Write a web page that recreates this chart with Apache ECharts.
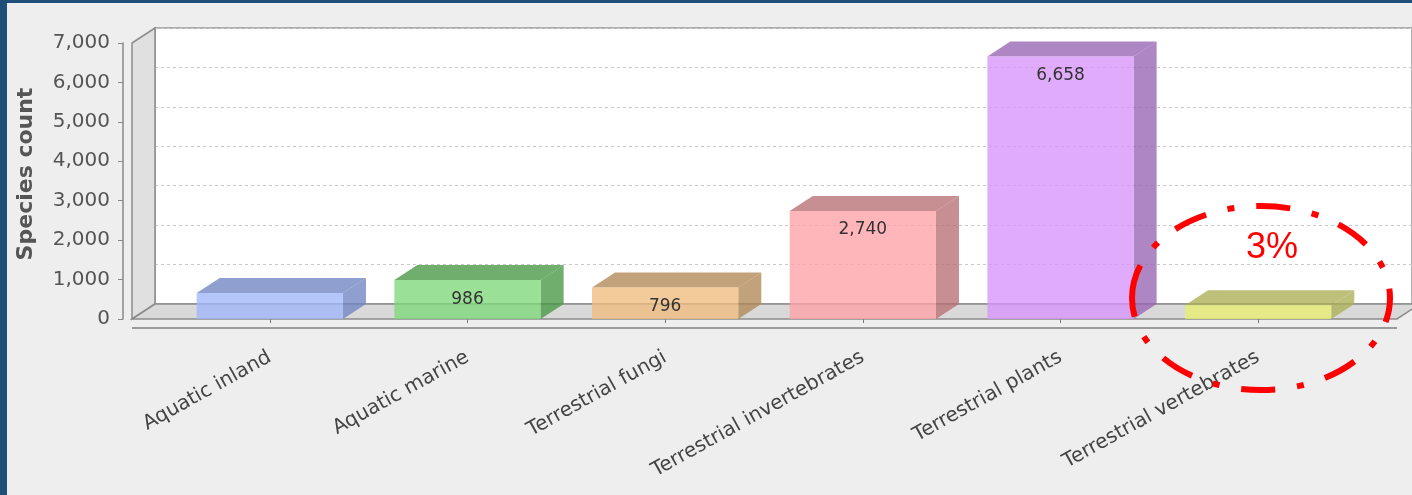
<!DOCTYPE html>
<html>
<head>
<meta charset="utf-8">
<script src="https://cdn.jsdelivr.net/npm/echarts@6/dist/echarts.min.js"></script>
<style>
  html, body { margin: 0; padding: 0; background: #eeeeee; }
  #chart { width: 1412px; height: 495px; }
</style>
</head>
<body>
<div id="chart"></div>
<script>
const categories = [
  'Aquatic inland',
  'Aquatic marine',
  'Terrestrial fungi',
  'Terrestrial invertebrates',
  'Terrestrial plants',
  'Terrestrial vertebrates'
]
const speciesCounts = [660, 986, 796, 2740, 6658, 350]
const yMax = 7000
const yInterval = 1000

// front face / darker top+side face, semi transparent like the original
const frontColors = [
  'rgba(160,182,248,0.78)',
  'rgba(126,216,122,0.78)',
  'rgba(240,188,126,0.78)',
  'rgba(255,162,167,0.78)',
  'rgba(216,147,250,0.78)',
  'rgba(232,238,111,0.78)'
]
const shadeColors = [
  'rgba(111,132,195,0.78)',
  'rgba(72,151,68,0.78)',
  'rgba(176,136,86,0.78)',
  'rgba(183,111,114,0.78)',
  'rgba(152,100,179,0.78)',
  'rgba(171,176,85,0.78)'
]

// 3d layout
const DX = 23
const DY = 15
const FRONT_LEFT = 132
const FRONT_RIGHT = 1397
const FRONT_TOP = 43
const FRONT_BOTTOM = 319
const AXIS_Y = 328
const W = 1412
const H = 495

const chart = echarts.init(document.getElementById('chart'))

function renderBar (params, api) {
  const i = api.value(0)
  const v = api.value(1)
  const base = api.coord([i, 0])
  const top = api.coord([i, v])
  const w = api.size([1, 0])[0] * 0.74
  const l = base[0] - w / 2
  const r = base[0] + w / 2
  const h = base[1] - top[1]
  const children = [
    {
      type: 'polygon',
      shape: { points: [[l, top[1]], [l + DX, top[1] - DY], [r + DX, top[1] - DY], [r, top[1]]] },
      style: { fill: shadeColors[i] }
    },
    {
      type: 'polygon',
      shape: { points: [[r, top[1]], [r + DX, top[1] - DY], [r + DX, base[1] - DY], [r, base[1]]] },
      style: { fill: shadeColors[i] }
    },
    {
      type: 'rect',
      shape: { x: l, y: top[1], width: w, height: h },
      style: { fill: frontColors[i] }
    }
  ]
  // label only when it fits inside the bar
  if (h >= 28) {
    children.push({
      type: 'text',
      style: {
        text: v.toLocaleString('en-US'),
        x: base[0],
        y: top[1] + 19,
        align: 'center',
        verticalAlign: 'middle',
        font: '17px "DejaVu Sans"',
        fill: '#333'
      }
    })
  }
  return { type: 'group', children }
}

const option = {
  backgroundColor: '#eeeeee',
  animation: false,
  grid: [
    // bars (front plane)
    { left: 171, right: 55, top: FRONT_TOP, bottom: H - FRONT_BOTTOM },
    // back wall
    {
      left: FRONT_LEFT + DX,
      right: 0,
      top: FRONT_TOP - DY,
      bottom: H - FRONT_BOTTOM + DY,
      show: true,
      backgroundColor: '#ffffff',
      borderColor: '#999',
      borderWidth: 1.5
    }
  ],
  xAxis: [
    {
      gridIndex: 0,
      type: 'category',
      data: categories,
      offset: AXIS_Y - FRONT_BOTTOM,
      axisLine: { show: false },
      axisTick: { show: true, alignWithLabel: true, length: 4, lineStyle: { color: '#777' } },
      axisLabel: {
        interval: 0,
        rotate: 29,
        margin: 28,
        fontFamily: 'DejaVu Sans',
        fontSize: 20,
        color: '#444'
      }
    },
    { gridIndex: 1, type: 'value', show: false, min: 0, max: 1 }
  ],
  yAxis: [
    {
      gridIndex: 0,
      type: 'value',
      min: 0,
      max: yMax,
      interval: yInterval,
      offset: 171 - 123,
      name: 'Species count',
      nameLocation: 'middle',
      nameGap: 86,
      nameTextStyle: {
        fontFamily: 'DejaVu Sans',
        fontSize: 22,
        fontWeight: 'bold',
        color: '#555',
        padding: [0, 0, 0, 14]
      },
      axisLine: { show: true, lineStyle: { color: '#888', width: 1.5 } },
      axisTick: { show: true, length: 5, lineStyle: { color: '#888' } },
      axisLabel: {
        margin: 13,
        fontFamily: 'DejaVu Sans',
        fontSize: 20,
        color: '#555',
        formatter: v => v.toLocaleString('en-US')
      },
      splitLine: { show: false }
    },
    {
      gridIndex: 1,
      type: 'value',
      min: 0,
      max: yMax,
      interval: yInterval,
      axisLine: { show: false },
      axisTick: { show: false },
      axisLabel: { show: false },
      splitLine: { show: true, lineStyle: { color: '#c8c8c8', type: [3, 3], width: 1 } }
    }
  ],
  series: [
    {
      type: 'custom',
      xAxisIndex: 0,
      yAxisIndex: 0,
      z: 3,
      clip: false,
      renderItem: renderBar,
      data: speciesCounts.map((v, i) => [i, v])
    }
  ],
  graphic: [
    // left wall
    {
      type: 'polygon',
      z: 1,
      shape: {
        points: [[FRONT_LEFT, FRONT_TOP], [FRONT_LEFT + DX, FRONT_TOP - DY], [FRONT_LEFT + DX, FRONT_BOTTOM - DY], [FRONT_LEFT, FRONT_BOTTOM]]
      },
      style: { fill: '#e0e0e0', stroke: '#8c8c8c', lineWidth: 1.5 }
    },
    // floor
    {
      type: 'polygon',
      z: 1,
      shape: {
        points: [[FRONT_LEFT, FRONT_BOTTOM], [FRONT_LEFT + DX, FRONT_BOTTOM - DY], [FRONT_RIGHT + DX, FRONT_BOTTOM - DY], [FRONT_RIGHT, FRONT_BOTTOM]]
      },
      style: { fill: '#d9d9d9', stroke: '#8c8c8c', lineWidth: 1.5 }
    },
    // category axis line
    {
      type: 'line',
      z: 1,
      shape: { x1: FRONT_LEFT, y1: AXIS_Y, x2: FRONT_RIGHT, y2: AXIS_Y },
      style: { stroke: '#9a9a9a', lineWidth: 2 }
    },
    // annotation
    {
      type: 'ellipse',
      z: 20,
      shape: { cx: 1261, cy: 298, rx: 129, ry: 92 },
      style: { fill: null, stroke: '#ff0000', lineWidth: 6, lineDash: [34, 22, 7, 22] }
    },
    {
      type: 'text',
      z: 20,
      style: {
        text: '3%',
        x: 1272,
        y: 248,
        align: 'center',
        verticalAlign: 'middle',
        font: '36px "Liberation Sans"',
        fill: '#ff0000'
      }
    },
    // slide border
    { type: 'rect', z: 30, shape: { x: 0, y: 0, width: 7, height: H }, style: { fill: '#1f4e79' } },
    { type: 'rect', z: 30, shape: { x: 0, y: 0, width: W, height: 3 }, style: { fill: '#1f4e79' } }
  ]
}

chart.setOption(option)
</script>
</body>
</html>
